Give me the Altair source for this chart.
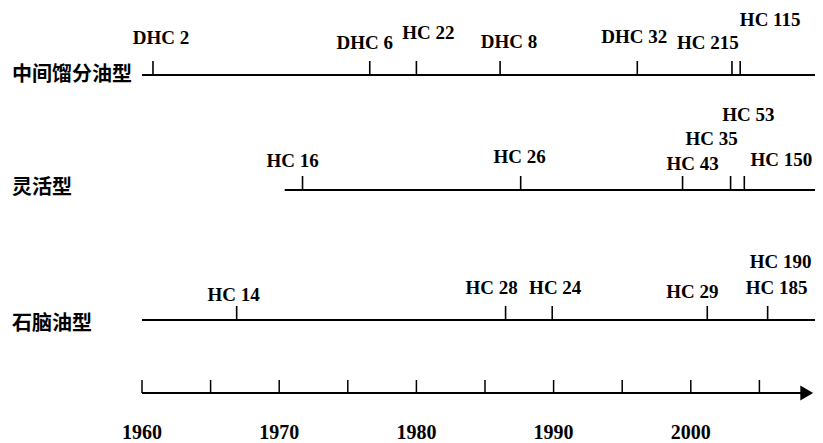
import altair as alt
import pandas as pd

# ---------------- data ----------------
rows = ["中间馏分油型", "灵活型", "石脑油型"]
row_start = [1960.0, 1970.4, 1960.0]
row_end = 2009.05

r1_names = ["DHC 2", "DHC 6", "HC 22", "DHC 8", "DHC 32", "HC 215", "HC 115"]
r1_years = [1960.8, 1976.6, 1980.0, 1986.1, 1996.1, 2003.0, 2003.6]
r1_tick = [True, True, True, True, True, True, True]

r2_names = ["HC 16", "HC 26", "HC 43", "HC 35", "HC 53", "HC 150"]
r2_years = [1971.7, 1987.6, 1999.4, 2002.9, 2003.9, 2006.6]
r2_tick = [True, True, True, True, True, False]

r3_names = ["HC 14", "HC 28", "HC 24", "HC 29", "HC 185", "HC 190"]
r3_years = [1966.9, 1986.5, 1989.9, 2001.2, 2005.6, 2005.6]
r3_tick = [True, True, True, True, True, False]

axis_ticks = [1960, 1965, 1970, 1975, 1980, 1985, 1990, 1995, 2000, 2005]
axis_labels = [1960, 1970, 1980, 1990, 2000]
axis_end = 2008.2
arrow_at = 2008.45

# ---------------- layout (pixels) ----------------
W, H = 807, 435
PX_PER_YEAR = 13.72
X0 = 1960 - 134 / PX_PER_YEAR
ROW_Y = [67, 182, 312]
AXIS_Y = 385
TICK_LEN = 14
AXIS_TICK_LEN = 13
# label offset from its tick: (dx px, rise px above the row line)
LABEL_OFFSET = {
    "DHC 2": (8, 37), "DHC 6": (-5, 32), "HC 22": (12, 42), "DHC 8": (9, 33),
    "DHC 32": (-3, 38), "HC 215": (-24, 32), "HC 115": (30, 55),
    "HC 16": (-10, 29), "HC 26": (-1, 33), "HC 43": (10, 26), "HC 35": (-19, 51),
    "HC 53": (4, 75), "HC 150": (0, 30),
    "HC 14": (-3, 25), "HC 28": (-14, 32), "HC 24": (3, 32), "HC 29": (-15, 28),
    "HC 185": (9, 32), "HC 190": (13, 58),
}

# ---------------- tables ----------------
lines = pd.DataFrame({
    "x": row_start + [1960.0],
    "x2": [row_end] * 3 + [axis_end],
    "y": ROW_Y + [AXIS_Y],
})

events = []
for ry, names, years, ticks in [
    (ROW_Y[0], r1_names, r1_years, r1_tick),
    (ROW_Y[1], r2_names, r2_years, r2_tick),
    (ROW_Y[2], r3_names, r3_years, r3_tick),
]:
    for n, yr, t in zip(names, years, ticks):
        dx, rise = LABEL_OFFSET[n]
        events.append({
            "name": n, "year": yr, "tick": t, "y": ry, "y2": ry - TICK_LEN,
            "lx": yr + dx / PX_PER_YEAR, "ly": ry - rise,
        })
events = pd.DataFrame(events)
ticks_df = events[events["tick"]]

cats = pd.DataFrame({"name": rows, "y": [ROW_Y[0], ROW_Y[1] - 2, ROW_Y[2] + 4]})
axt = pd.DataFrame({"x": axis_ticks, "y": AXIS_Y, "y2": AXIS_Y - AXIS_TICK_LEN})
axl = pd.DataFrame({"x": axis_labels, "y": AXIS_Y + 40, "t": [str(v) for v in axis_labels]})
arrow = pd.DataFrame({"x": [arrow_at], "y": [AXIS_Y]})

xs = alt.Scale(domain=[X0, X0 + W / PX_PER_YEAR], nice=False, zero=False)
ys = alt.Scale(domain=[0, H], range=[0, H], nice=False, zero=False)

def X(f):
    return alt.X(f, type="quantitative", scale=xs, axis=None)

def Y(f):
    return alt.Y(f, type="quantitative", scale=ys, axis=None)

line_layer = alt.Chart(lines).mark_rule(color="black", strokeWidth=2).encode(
    x=X("x"), x2="x2", y=Y("y"))

tick_layer = alt.Chart(ticks_df).mark_rule(color="black", strokeWidth=1.6).encode(
    x=X("year"), y=Y("y"), y2="y2")

label_layer = alt.Chart(events).mark_text(
    font="Liberation Serif", fontSize=19, fontWeight="bold", color="black",
    align="center", baseline="middle").encode(
    x=X("lx"), y=Y("ly"), text="name:N")

cat_layer = alt.Chart(cats).mark_text(
    font="Noto Sans CJK SC", fontSize=20, fontWeight="bold", color="black",
    align="left", baseline="middle").encode(
    x=alt.value(4), y=Y("y"), text="name:N")

axis_tick_layer = alt.Chart(axt).mark_rule(color="black", strokeWidth=1.5).encode(
    x=X("x"), y=Y("y"), y2="y2")

axis_label_layer = alt.Chart(axl).mark_text(
    font="Liberation Serif", fontSize=20, fontWeight="bold", color="black",
    align="center", baseline="middle").encode(
    x=X("x"), y=Y("y"), text="t:N")

arrow_layer = alt.Chart(arrow).mark_point(
    shape="triangle-right", filled=True, color="black", opacity=1, size=220).encode(
    x=X("x"), y=Y("y"))

chart = alt.layer(
    line_layer, tick_layer, label_layer, cat_layer,
    axis_tick_layer, axis_label_layer, arrow_layer,
).properties(
    width=W, height=H, autosize=alt.AutoSizeParams(type="none"), padding=0,
).configure_view(stroke=None)

chart.save("out.html", embed_options={"renderer": "svg", "actions": False})
